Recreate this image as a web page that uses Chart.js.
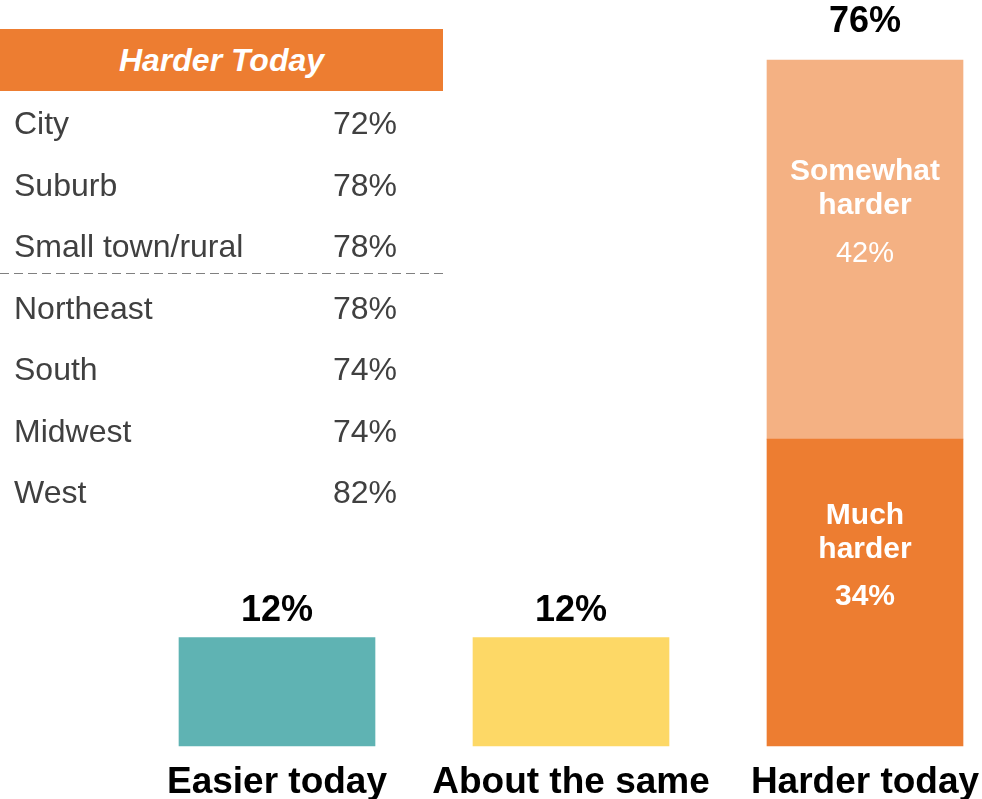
<!DOCTYPE html>
<html>
<head>
<meta charset="utf-8">
<script src="https://cdn.jsdelivr.net/npm/chart.js@4.4.1/dist/chart.umd.min.js"></script>
<style>
html, body { margin: 0; padding: 0; background: #fff; }
#wrap { position: relative; width: 982px; height: 799px; }
#chart { position: absolute; left: 0; top: 0; }
#table { position: absolute; left: 0; top: 29px; width: 443px; font-family: "Liberation Sans", Arial, sans-serif; color: #404040; }
#table .head { height: 62px; background: #ED7D31; color: #fff; font-weight: bold; font-style: italic; font-size: 32px; line-height: 62px; text-align: center; }
#table .row { position: relative; height: 61.5px; font-size: 32px; line-height: 64px; }
#table .row .lab { position: absolute; left: 14px; }
#table .row .val { position: absolute; right: 46px; }
#table .sep { position: relative; height: 0; }
#table .sep div { position: absolute; left: 0; right: 0; top: -3px; height: 1.5px;
  background: repeating-linear-gradient(to right, #808080 0 9px, transparent 9px 14px); }
</style>
</head>
<body>
<div id="wrap">
<canvas id="chart" width="982" height="799"></canvas>
<div id="table"></div>
</div>
<script>

// bar chart data
const categories = ["Easier today", "About the same", "Harder today"]
const easier = [12, null, null]
const same = [null, 12, null]
const muchHarder = [null, null, 34]
const somewhatHarder = [null, null, 42]

// "Harder Today" breakdown table
const areaLabels = ["City", "Suburb", "Small town/rural"]
const areaValues = [72, 78, 78]
const regionLabels = ["Northeast", "South", "Midwest", "West"]
const regionValues = [78, 74, 74, 82]

const table = document.getElementById("table")
let html = '<div class="head">Harder Today</div>'
areaLabels.forEach((l, i) => {
html += '<div class="row"><span class="lab">' + l + '</span><span class="val">' + areaValues[i] + '%</span></div>'
})
html += '<div class="sep"><div></div></div>'
regionLabels.forEach((l, i) => {
html += '<div class="row"><span class="lab">' + l + '</span><span class="val">' + regionValues[i] + '%</span></div>'
})
table.innerHTML = html

const FONT = "'Liberation Sans', Arial, sans-serif"

const labelPlugin = {
id: "labels",
afterDatasetsDraw(chart) {
const ctx = chart.ctx
ctx.save()
ctx.textAlign = "center"
ctx.textBaseline = "middle"

// totals above each column
categories.forEach((c, i) => {
let total = 0
chart.data.datasets.forEach(ds => { if (ds.data[i] != null) total += ds.data[i] })
const x = chart.scales.x.getPixelForValue(i)
const y = chart.scales.y.getPixelForValue(total)
ctx.fillStyle = "#000"
ctx.font = "bold 36px " + FONT
ctx.fillText(total + "%", x, total > 50 ? y - 38 : y - 27)
})

// segment labels inside the harder bar
const x = chart.scales.x.getPixelForValue(2)
const y1 = chart.scales.y.getPixelForValue(muchHarder[2])
const y2 = chart.scales.y.getPixelForValue(muchHarder[2] + somewhatHarder[2])
ctx.fillStyle = "#fff"
ctx.font = "bold 30px " + FONT
ctx.fillText("Much", x, y1 + 77)
ctx.fillText("harder", x, y1 + 111)
ctx.fillText(muchHarder[2] + "%", x, y1 + 158)
ctx.fillText("Somewhat", x, y2 + 112)
ctx.fillText("harder", x, y2 + 146)
ctx.font = "29px " + FONT
ctx.fillText(somewhatHarder[2] + "%", x, y2 + 194)
ctx.restore()
}
}

new Chart(document.getElementById("chart"), {
type: "bar",
data: {
labels: categories,
datasets: [
{ label: "Easier today", data: easier, backgroundColor: "#5FB3B3" },
{ label: "About the same", data: same, backgroundColor: "#FDD866" },
{ label: "Much harder", data: muchHarder, backgroundColor: "#ED7D31" },
{ label: "Somewhat harder", data: somewhatHarder, backgroundColor: "#F4B183" }
]
},
options: {
responsive: false,
animation: false,
layout: { padding: { left: 277, right: 117, top: 0, bottom: 0 } },
datasets: { bar: { barThickness: 196, clip: false } },
plugins: {
legend: { display: false },
tooltip: { enabled: false }
},
scales: {
x: {
stacked: true,
offset: false,
grid: { display: false, drawTicks: false },
border: { display: false },
ticks: { color: "#000", padding: 18, maxRotation: 0, autoSkip: false, font: { family: FONT, size: 37, weight: "bold", lineHeight: 1 } },
afterFit(scale) {
scale.height = 53
scale.paddingLeft = 0
scale.paddingRight = 0
}
},
y: {
stacked: true,
display: false,
min: 0,
max: 82.65
}
}
},
plugins: [labelPlugin]
})

</script>
</body>
</html>
